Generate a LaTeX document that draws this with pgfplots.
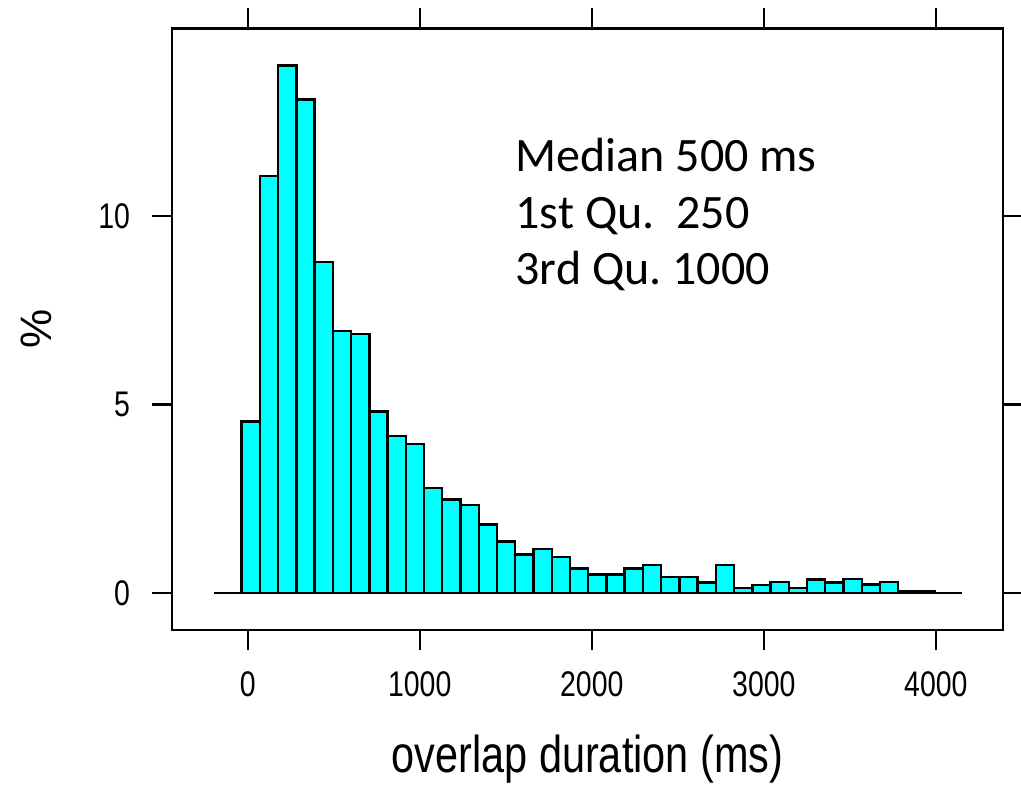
\documentclass[border=0pt]{standalone}
\usepackage{fontspec}
\setmainfont{Liberation Sans}
\newfontfamily\lab[FakeStretch=0.8]{Liberation Sans}
\newfontfamily\note{Carlito}
\usepackage{pgfplots}
\pgfplotsset{compat=1.18}
\definecolor{barcyan}{RGB}{0,255,255}
\begin{document}
\frenchspacing
\begin{tikzpicture}
\begin{axis}[
  scale only axis,
  width=415.5pt, height=300.75pt,
  xmin=-440, xmax=4390,
  ymin=-0.98, ymax=14.98,
  xtick={0,1000,2000,3000,4000},
  ytick={0,5,10},
  minor tick num=0,
  xtick pos=both, ytick pos=both,
  xticklabel pos=lower, yticklabel pos=left,
  tick align=outside,
  major tick length=10pt,
  tick style={black, line width=1.2pt},
  axis line style={black, line width=1.2pt},
  scaled x ticks=false,
  xticklabel style={/pgf/number format/1000 sep={}},
  /pgf/number format/assume math mode=true,
  tick label style={font=\fontsize{17.8}{20}\lab, text=black},
  xticklabel shift=7.5pt,
  yticklabel shift=7.5pt,
  xlabel={overlap duration (ms)},
  ylabel={\%},
  xlabel style={at={(axis description cs:0.5,0)}, anchor=north, yshift=-52.5pt, inner sep=0pt, font=\fontsize{25.9}{30}\lab},
  ylabel style={at={(axis description cs:0,0.5)}, anchor=center, yshift=68pt, inner sep=0pt, font=\fontsize{22}{26}\selectfont},
  clip=false,
]
\coordinate (bl) at (rel axis cs:0,0);
\addplot[black, line width=1.2pt, forget plot] coordinates {(-196,0) (4149,0)};
\addplot[ybar interval, fill=barcyan, draw=black, line width=1.2pt] coordinates {
(-35,4.55) (71,11.06) (177,14.0) (283,13.1) (389,8.78) (495,6.95)
(601,6.88) (707,4.82) (813,4.16) (919,3.95) (1025,2.78) (1131,2.48)
(1237,2.33) (1343,1.82) (1449,1.37) (1555,1.02) (1661,1.17) (1767,0.95)
(1873,0.65) (1979,0.49) (2085,0.49) (2191,0.65) (2297,0.74) (2403,0.43)
(2509,0.43) (2615,0.28) (2721,0.74) (2827,0.13) (2933,0.21) (3039,0.30)
(3145,0.13) (3251,0.36) (3357,0.28) (3463,0.38) (3569,0.23) (3675,0.30)
(3781,0.05) (3887,0.05) (3993,0)
};
\node[anchor=north west, inner sep=0pt, align=left, font=\fontsize{24}{28.3}\note, text=black]
  at (rel axis cs:0.413,0.818) {Median 500 ms\\1st Qu.\hspace{0.452em}250\\3rd Qu. 1000};
\end{axis}
\pgfresetboundingbox
\path ([xshift=-86pt,yshift=-81pt]bl) rectangle ++(510.5pt,396pt);
\end{tikzpicture}
\end{document}
